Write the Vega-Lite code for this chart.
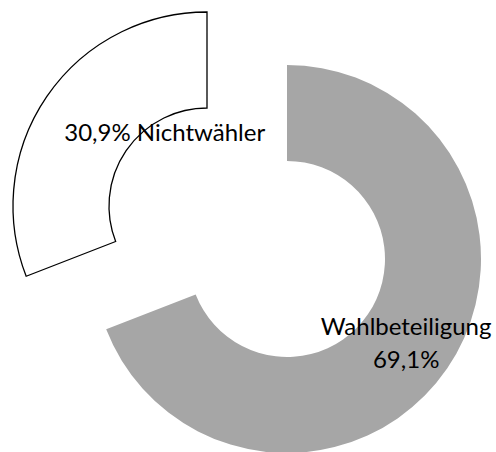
{
  "$schema": "https://vega.github.io/schema/vega-lite/v6.json",
  "width": 418,
  "height": 386,
  "autosize": {"type": "none"},
  "padding": {"left": 78, "top": 66, "right": 0, "bottom": 0},
  "background": "white",
  "view": {"stroke": null},
  "data": {
    "values": [
      {"category": "Wahlbeteiligung", "value": 69.1, "label": "Wahlbeteiligung\n69,1%"},
      {"category": "Nichtwähler", "value": 30.9, "label": "30,9% Nichtwähler"}
    ]
  },
  "transform": [
    {"stack": "value", "groupby": [], "as": ["v0", "v1"]},
    {"calculate": "(datum.v0 + datum.v1) / 2", "as": "mid"}
  ],
  "layer": [
    {
      "transform": [{"filter": "datum.category === 'Wahlbeteiligung'"}],
      "mark": {"type": "arc", "radius": 194, "radius2": 98, "fill": "#a6a6a6", "stroke": null},
      "encoding": {
        "theta": {"field": "v0", "type": "quantitative", "scale": {"domain": [0, 100]}},
        "theta2": {"field": "v1"}
      }
    },
    {
      "transform": [{"filter": "datum.category === 'Nichtwähler'"}],
      "mark": {"type": "arc", "radius": 194, "radius2": 98, "fill": "white", "stroke": "black", "strokeWidth": 1.3, "xOffset": -80, "yOffset": -53},
      "encoding": {
        "theta": {"field": "v0", "type": "quantitative", "scale": {"domain": [0, 100]}},
        "theta2": {"field": "v1"}
      }
    },
    {
      "transform": [{"filter": "datum.category === 'Nichtwähler'"}],
      "mark": {"type": "text", "radius": 84, "xOffset": -80, "yOffset": -53, "dx": 27, "dy": -25, "font": "Lato", "fontSize": 24, "color": "black", "align": "center", "baseline": "middle"},
      "encoding": {
        "theta": {"field": "mid", "type": "quantitative", "stack": null, "scale": {"domain": [0, 100]}},
        "text": {"field": "label"}
      }
    },
    {
      "transform": [{"filter": "datum.category === 'Wahlbeteiligung'"}],
      "mark": {"type": "text", "radius": 148, "dx": -3, "dy": -15, "font": "Lato", "fontSize": 24, "color": "black", "align": "center", "baseline": "middle", "lineBreak": "\n", "lineHeight": 33},
      "encoding": {
        "theta": {"field": "mid", "type": "quantitative", "stack": null, "scale": {"domain": [0, 100]}},
        "text": {"field": "label"}
      }
    }
  ]
}
